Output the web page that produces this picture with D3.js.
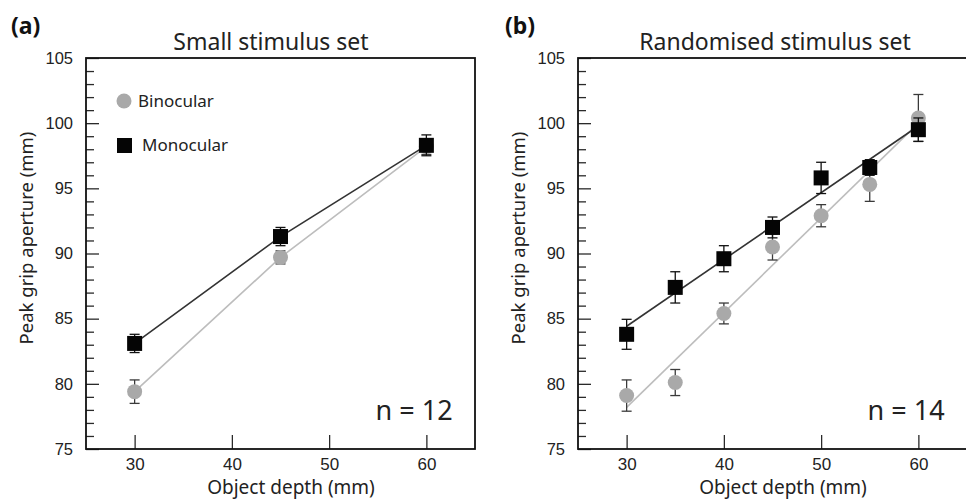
<!DOCTYPE html>
<html>
<head>
<meta charset="utf-8">
<script src="https://cdn.jsdelivr.net/npm/d3@7"></script>
<style>
  body { margin: 0; background: #fff; }
  svg { display: block; font-family: "Noto Sans", "Open Sans", sans-serif; }
  .tick text { fill: #222; }
</style>
</head>
<body>
<svg id="chart" width="966" height="501"></svg>
<script>
/*
    DATA
*/
// panel (a) small stimulus set
var depthA = [30, 45, 60];
var binoA = [79.4, 89.7, 98.2];
var binoErrA = [0.9, 0.5, 0.6];
var monoA = [83.1, 91.3, 98.3];
var monoErrA = [0.7, 0.7, 0.8];

// panel (b) randomised stimulus set
var depthB = [30, 35, 40, 45, 50, 55, 60];
var binoB = [79.1, 80.1, 85.4, 90.5, 92.9, 95.3, 100.4];
var binoErrB = [1.2, 1.0, 0.8, 1.0, 0.85, 1.3, 1.8];
var monoB = [83.8, 87.4, 89.6, 92.0, 95.8, 96.6, 99.5];
var monoErrB = [1.15, 1.2, 1.0, 0.8, 1.2, 0.6, 0.9];

var xTicks = [30, 40, 50, 60];
var yTicks = [75, 80, 85, 90, 95, 100, 105];
var yMinor = d3.range(75, 106).filter(function(v) { return v % 5 != 0; });

/*
    LAYOUT
*/
var svg = d3.select("#chart");
var top0 = 58, bottom0 = 449;
var darkCol = "#2a2a2a";
var greyCol = "#a9a9a9";
var greyLine = "#bdbdbd";

function zip(xs, ys, es) {
  return xs.map(function(x, i) { return {x: x, y: ys[i], e: es[i]}; });
}

// least squares fit, used for the lines of panel (b)
function fitLine(xs, ys) {
  var mx = d3.mean(xs), my = d3.mean(ys);
  var num = d3.sum(xs, function(x, i) { return (x - mx) * (ys[i] - my); });
  var den = d3.sum(xs, function(x) { return (x - mx) * (x - mx); });
  var b = num / den, a = my - b * mx;
  var x0 = d3.min(xs), x1 = d3.max(xs);
  return [{x: x0, y: a + b * x0}, {x: x1, y: a + b * x1}];
}

function drawPanel(opt) {
  var x = d3.scaleLinear().domain([25, 65]).range([opt.left, opt.left + 389]);
  var y = d3.scaleLinear().domain([75, 105]).range([bottom0, top0]);
  var g = svg.append("g");

  // minor y ticks
  g.append("g")
    .attr("transform", "translate(" + opt.left + ",0)")
    .call(d3.axisLeft(y).tickValues(yMinor).tickSize(-8).tickFormat(""))
    .call(function(s) { s.select(".domain").remove(); })
    .selectAll("line").attr("stroke", darkCol).attr("stroke-width", 1.3);

  // major y ticks
  g.append("g")
    .attr("transform", "translate(" + opt.left + ",0)")
    .call(d3.axisLeft(y).tickValues(yTicks).tickSize(-13).tickPadding(13))
    .call(function(s) { s.select(".domain").remove(); })
    .call(function(s) {
      s.selectAll("line").attr("stroke", darkCol).attr("stroke-width", 1.3);
      s.selectAll("text").style("font-size", "16.5px");
    });

  // x ticks
  g.append("g")
    .attr("transform", "translate(0," + bottom0 + ")")
    .call(d3.axisBottom(x).tickValues(xTicks).tickSize(-14).tickPadding(9))
    .call(function(s) { s.select(".domain").remove(); })
    .call(function(s) {
      s.selectAll("line").attr("stroke", darkCol).attr("stroke-width", 1.3);
      s.selectAll("text").style("font-size", "17px");
    });

  // frame
  g.append("rect")
    .attr("x", x.range()[0]).attr("y", top0)
    .attr("width", x.range()[1] - x.range()[0]).attr("height", bottom0 - top0)
    .attr("fill", "none").attr("stroke", "#111").attr("stroke-width", 1.8);

  var line = d3.line().x(function(d) { return x(d.x); }).y(function(d) { return y(d.y); });

  var bino = zip(opt.depth, opt.bino, opt.binoErr);
  var mono = zip(opt.depth, opt.mono, opt.monoErr);

  var binoPath = opt.fit ? fitLine(opt.depth, opt.bino) : bino;
  var monoPath = opt.fit ? fitLine(opt.depth, opt.mono) : mono;

  g.append("path").datum(binoPath).attr("d", line)
    .attr("fill", "none").attr("stroke", greyLine).attr("stroke-width", 1.6);
  g.append("path").datum(monoPath).attr("d", line)
    .attr("fill", "none").attr("stroke", "#333").attr("stroke-width", 1.6);

  function errorBars(data, col) {
    var eb = g.append("g").attr("stroke", col).attr("stroke-width", 1.3);
    eb.selectAll(".v").data(data).enter().append("line")
      .attr("x1", function(d) { return x(d.x); }).attr("x2", function(d) { return x(d.x); })
      .attr("y1", function(d) { return y(d.y - d.e); }).attr("y2", function(d) { return y(d.y + d.e); });
    eb.selectAll(".t").data(data).enter().append("line")
      .attr("x1", function(d) { return x(d.x) - 5; }).attr("x2", function(d) { return x(d.x) + 5; })
      .attr("y1", function(d) { return y(d.y + d.e); }).attr("y2", function(d) { return y(d.y + d.e); });
    eb.selectAll(".b").data(data).enter().append("line")
      .attr("x1", function(d) { return x(d.x) - 5; }).attr("x2", function(d) { return x(d.x) + 5; })
      .attr("y1", function(d) { return y(d.y - d.e); }).attr("y2", function(d) { return y(d.y - d.e); });
  }

  errorBars(bino, "#3a3a3a");
  g.selectAll(".bino").data(bino).enter().append("circle")
    .attr("cx", function(d) { return x(d.x); })
    .attr("cy", function(d) { return y(d.y); })
    .attr("r", 7.5).attr("fill", greyCol);

  errorBars(mono, "#111");
  g.selectAll(".mono").data(mono).enter().append("rect")
    .attr("x", function(d) { return x(d.x) - 7.5; })
    .attr("y", function(d) { return y(d.y) - 7.5; })
    .attr("width", 15).attr("height", 15).attr("fill", "#050505");

  // texts
  g.append("text").attr("x", opt.labelX).attr("y", 34)
    .style("font-size", "23px").style("font-weight", "bold").attr("fill", "#111")
    .text(opt.label);
  g.append("text").attr("x", opt.titleX).attr("y", 50)
    .attr("text-anchor", "middle").style("font-size", "23px").attr("fill", "#222")
    .text(opt.title);
  g.append("text").attr("x", opt.left + 205).attr("y", 494)
    .attr("text-anchor", "middle").style("font-size", "19px").attr("fill", "#222")
    .text("Object depth (mm)");
  g.append("text")
    .attr("transform", "translate(" + (opt.left - 53) + ",238) rotate(-90)")
    .attr("text-anchor", "middle").style("font-size", "18.5px").attr("fill", "#222")
    .text("Peak grip aperture (mm)");
  g.append("text").attr("x", x(62.7)).attr("y", 420)
    .attr("text-anchor", "end").style("font-size", "27px").attr("fill", "#222")
    .text(opt.n);

  return {x: x, y: y, g: g};
}

var pa = drawPanel({
  left: 86, depth: depthA, bino: binoA, binoErr: binoErrA, mono: monoA, monoErr: monoErrA,
  fit: false, label: "(a)", labelX: 11, title: "Small stimulus set", titleX: 271, n: "n = 12"
});

var pb = drawPanel({
  left: 578, depth: depthB, bino: binoB, binoErr: binoErrB, mono: monoB, monoErr: monoErrB,
  fit: true, label: "(b)", labelX: 505, title: "Randomised stimulus set", titleX: 775, n: "n = 14"
});

// legend in panel (a)
var leg = pa.g.append("g");
leg.append("circle").attr("cx", 124).attr("cy", 101).attr("r", 7.5).attr("fill", greyCol);
leg.append("text").attr("x", 138).attr("y", 107).style("font-size", "17px").attr("fill", "#222").text("Binocular");
leg.append("rect").attr("x", 117).attr("y", 138).attr("width", 15).attr("height", 15).attr("fill", "#050505");
leg.append("text").attr("x", 142).attr("y", 151).style("font-size", "17px").attr("fill", "#222").text("Monocular");
</script>
</body>
</html>
